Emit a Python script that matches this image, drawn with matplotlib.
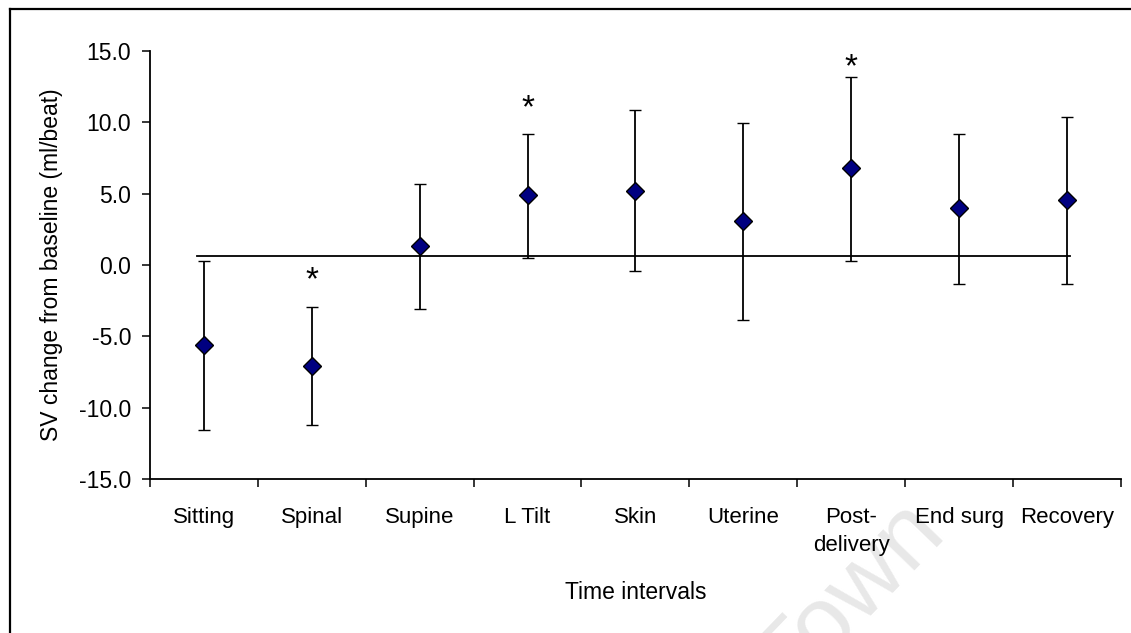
import matplotlib
matplotlib.use("Agg")
import matplotlib.pyplot as plt
from matplotlib.lines import Line2D
import numpy as np

plt.rcParams["font.family"] = ["Liberation Sans", "DejaVu Sans"]
plt.rcParams["axes.unicode_minus"] = False

categories = ["Sitting", "Spinal", "Supine", "L Tilt", "Skin", "Uterine",
              "Post-\ndelivery", "End surg", "Recovery"]
means = [-5.6, -7.05, 1.35, 4.93, 5.2, 3.06, 6.8, 4.0, 4.55]
upper = [0.26, -2.95, 5.7, 9.2, 10.9, 9.97, 13.2, 9.2, 10.37]
lower = [-11.6, -11.2, -3.1, 0.5, -0.4, -3.85, 0.28, -1.3, -1.3]
star_idx = [1, 3, 6]
star_y = [-1.1, 10.95, 13.85]
ref_x = [-0.06, 8.03]
ref_y = [0.6, 0.6]

fig = plt.figure(figsize=(11.31, 6.33), dpi=100)
ax = fig.add_axes([0.1326, 0.2433, 0.8584, 0.6761])
ax.patch.set_alpha(0)

x = np.arange(len(categories))
means = np.array(means)
yerr = [means - np.array(lower), np.array(upper) - means]

ax.plot(ref_x, ref_y, color="black", lw=1.3, zorder=1)
ax.errorbar(x, means, yerr=yerr, fmt="D", color="black", ecolor="black",
            elinewidth=1.3, capsize=4, capthick=1.3, markersize=9.5,
            markerfacecolor="#000080", markeredgecolor="black",
            markeredgewidth=1.0, zorder=3)

for i, yy in zip(star_idx, star_y):
    ax.text(x[i], yy, "*", ha="center", va="center", fontsize=24)

ax.set_xlim(-0.5, len(categories) - 0.5)
ax.set_ylim(-15, 15)
ax.set_yticks(np.arange(-15, 15.1, 5))
ax.set_yticklabels([f"{v:.1f}" for v in np.arange(-15, 15.1, 5)])
ax.set_xticks(np.arange(-0.5, len(categories)), labels=[])
ax.set_xticks(x, labels=categories, minor=True)
for lbl in ax.get_xticklabels(minor=True):
    lbl.set_linespacing(1.45)
ax.tick_params(axis="x", which="major", direction="out", length=5.5, width=1.1)
ax.tick_params(axis="x", which="minor", length=0, pad=20, labelsize=16)
ax.tick_params(axis="y", direction="out", length=5.5, width=1.1, pad=8, labelsize=16.5)

for s in ["top", "right"]:
    ax.spines[s].set_visible(False)
for s in ["left", "bottom"]:
    ax.spines[s].set_linewidth(1.3)

ax.set_ylabel("SV change from baseline (ml/beat)", fontsize=16.5)
ax.yaxis.set_label_coords(-0.09, 0.5)
ax.set_xlabel("Time intervals", fontsize=16.5, labelpad=18)

# outer frame (top and left edges visible in the picture)
fig.add_artist(Line2D([10 / 1131, 1.0], [1 - 8.5 / 633] * 2, color="black", lw=1.6))
fig.add_artist(Line2D([10 / 1131] * 2, [0.0, 1 - 8.5 / 633], color="black", lw=1.6))

# faint watermark
fig.text(851 / 1131, 1 - 598 / 633, "Town", fontsize=70, color="#e8e8e8",
         rotation=46, ha="center", va="center", rotation_mode="anchor", zorder=-1)

fig.savefig("out.png", dpi=100)
